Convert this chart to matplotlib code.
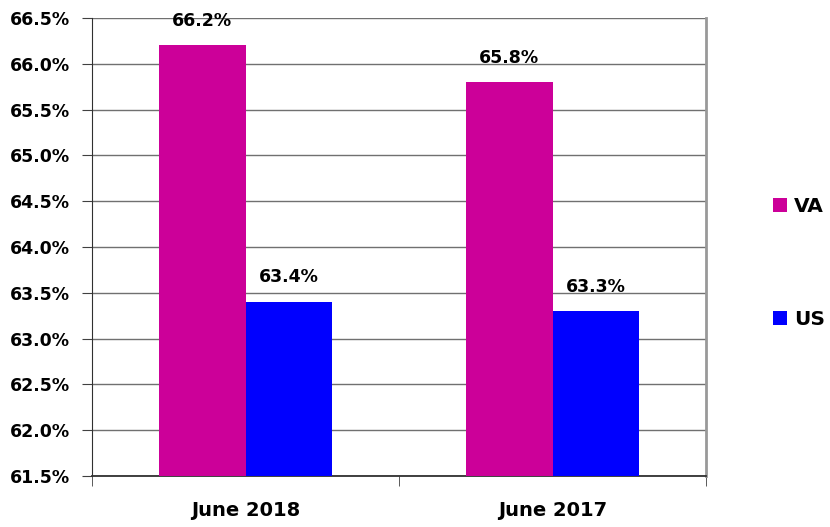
import matplotlib
matplotlib.use('Agg')
import matplotlib.pyplot as plt
import numpy as np

# data
categories = ["June 2018", "June 2017"]
va_values = [66.2, 65.8]
us_values = [63.4, 63.3]
series_names = ["VA", "US"]

plt.rcParams['font.family'] = ['DejaVu Sans']

fig = plt.figure(figsize=(8.3, 5.27), dpi=100)
ax = fig.add_axes([92 / 830, 1 - 476 / 527, (706 - 92) / 830, (476 - 18) / 527])

x = np.arange(len(categories)) + 0.5
w = 0.283
b1 = ax.bar(x - w / 2, np.array(va_values) - 61.5, w, bottom=61.5, color='#CC0099', label=series_names[0], zorder=3)
b2 = ax.bar(x + w / 2, np.array(us_values) - 61.5, w, bottom=61.5, color='#0000FF', label=series_names[1], zorder=3)

for bars, vals in [(b1, va_values), (b2, us_values)]:
    for rect, v in zip(bars, vals):
        ax.text(rect.get_x() + rect.get_width() / 2, v + 0.17, f"{v:.1f}%",
                ha='center', va='bottom', fontsize=12.5, fontweight='bold', zorder=4)

ax.set_xlim(0, 2)
ax.set_ylim(61.5, 66.5)
ticks = np.arange(61.5, 66.51, 0.5)
ax.set_yticks(ticks)
ax.set_yticklabels([f"{t:.1f}%" for t in ticks], fontsize=12.5, fontweight='bold')
ax.set_xticks(x)
ax.set_xticklabels(categories, fontsize=14, fontweight='bold')
ax.set_xticks([0, 1, 2], minor=True)
ax.tick_params(axis='x', which='major', length=0, pad=18)
ax.tick_params(axis='x', which='minor', length=7, color='#404040')
ax.tick_params(axis='y', length=7, color='#404040', pad=9)

ax.grid(axis='y', color='#707070', linewidth=1, zorder=0)
ax.spines['top'].set_visible(False)
ax.spines['left'].set_color('#303030')
ax.spines['bottom'].set_color('#303030')
ax.spines['bottom'].set_linewidth(1.3)
ax.spines['right'].set_color('#999999')
ax.spines['right'].set_linewidth(2)

fig.legend(handles=[b1, b2], labels=series_names, loc='center left',
           bbox_to_anchor=(773 / 830, 1 - 263 / 527), frameon=False,
           prop={'size': 14.5, 'weight': 'bold'}, handlelength=0.7, handleheight=0.7,
           handletextpad=0.35, labelspacing=4.7, borderpad=0, borderaxespad=0)

fig.savefig("out.png", dpi=100)
